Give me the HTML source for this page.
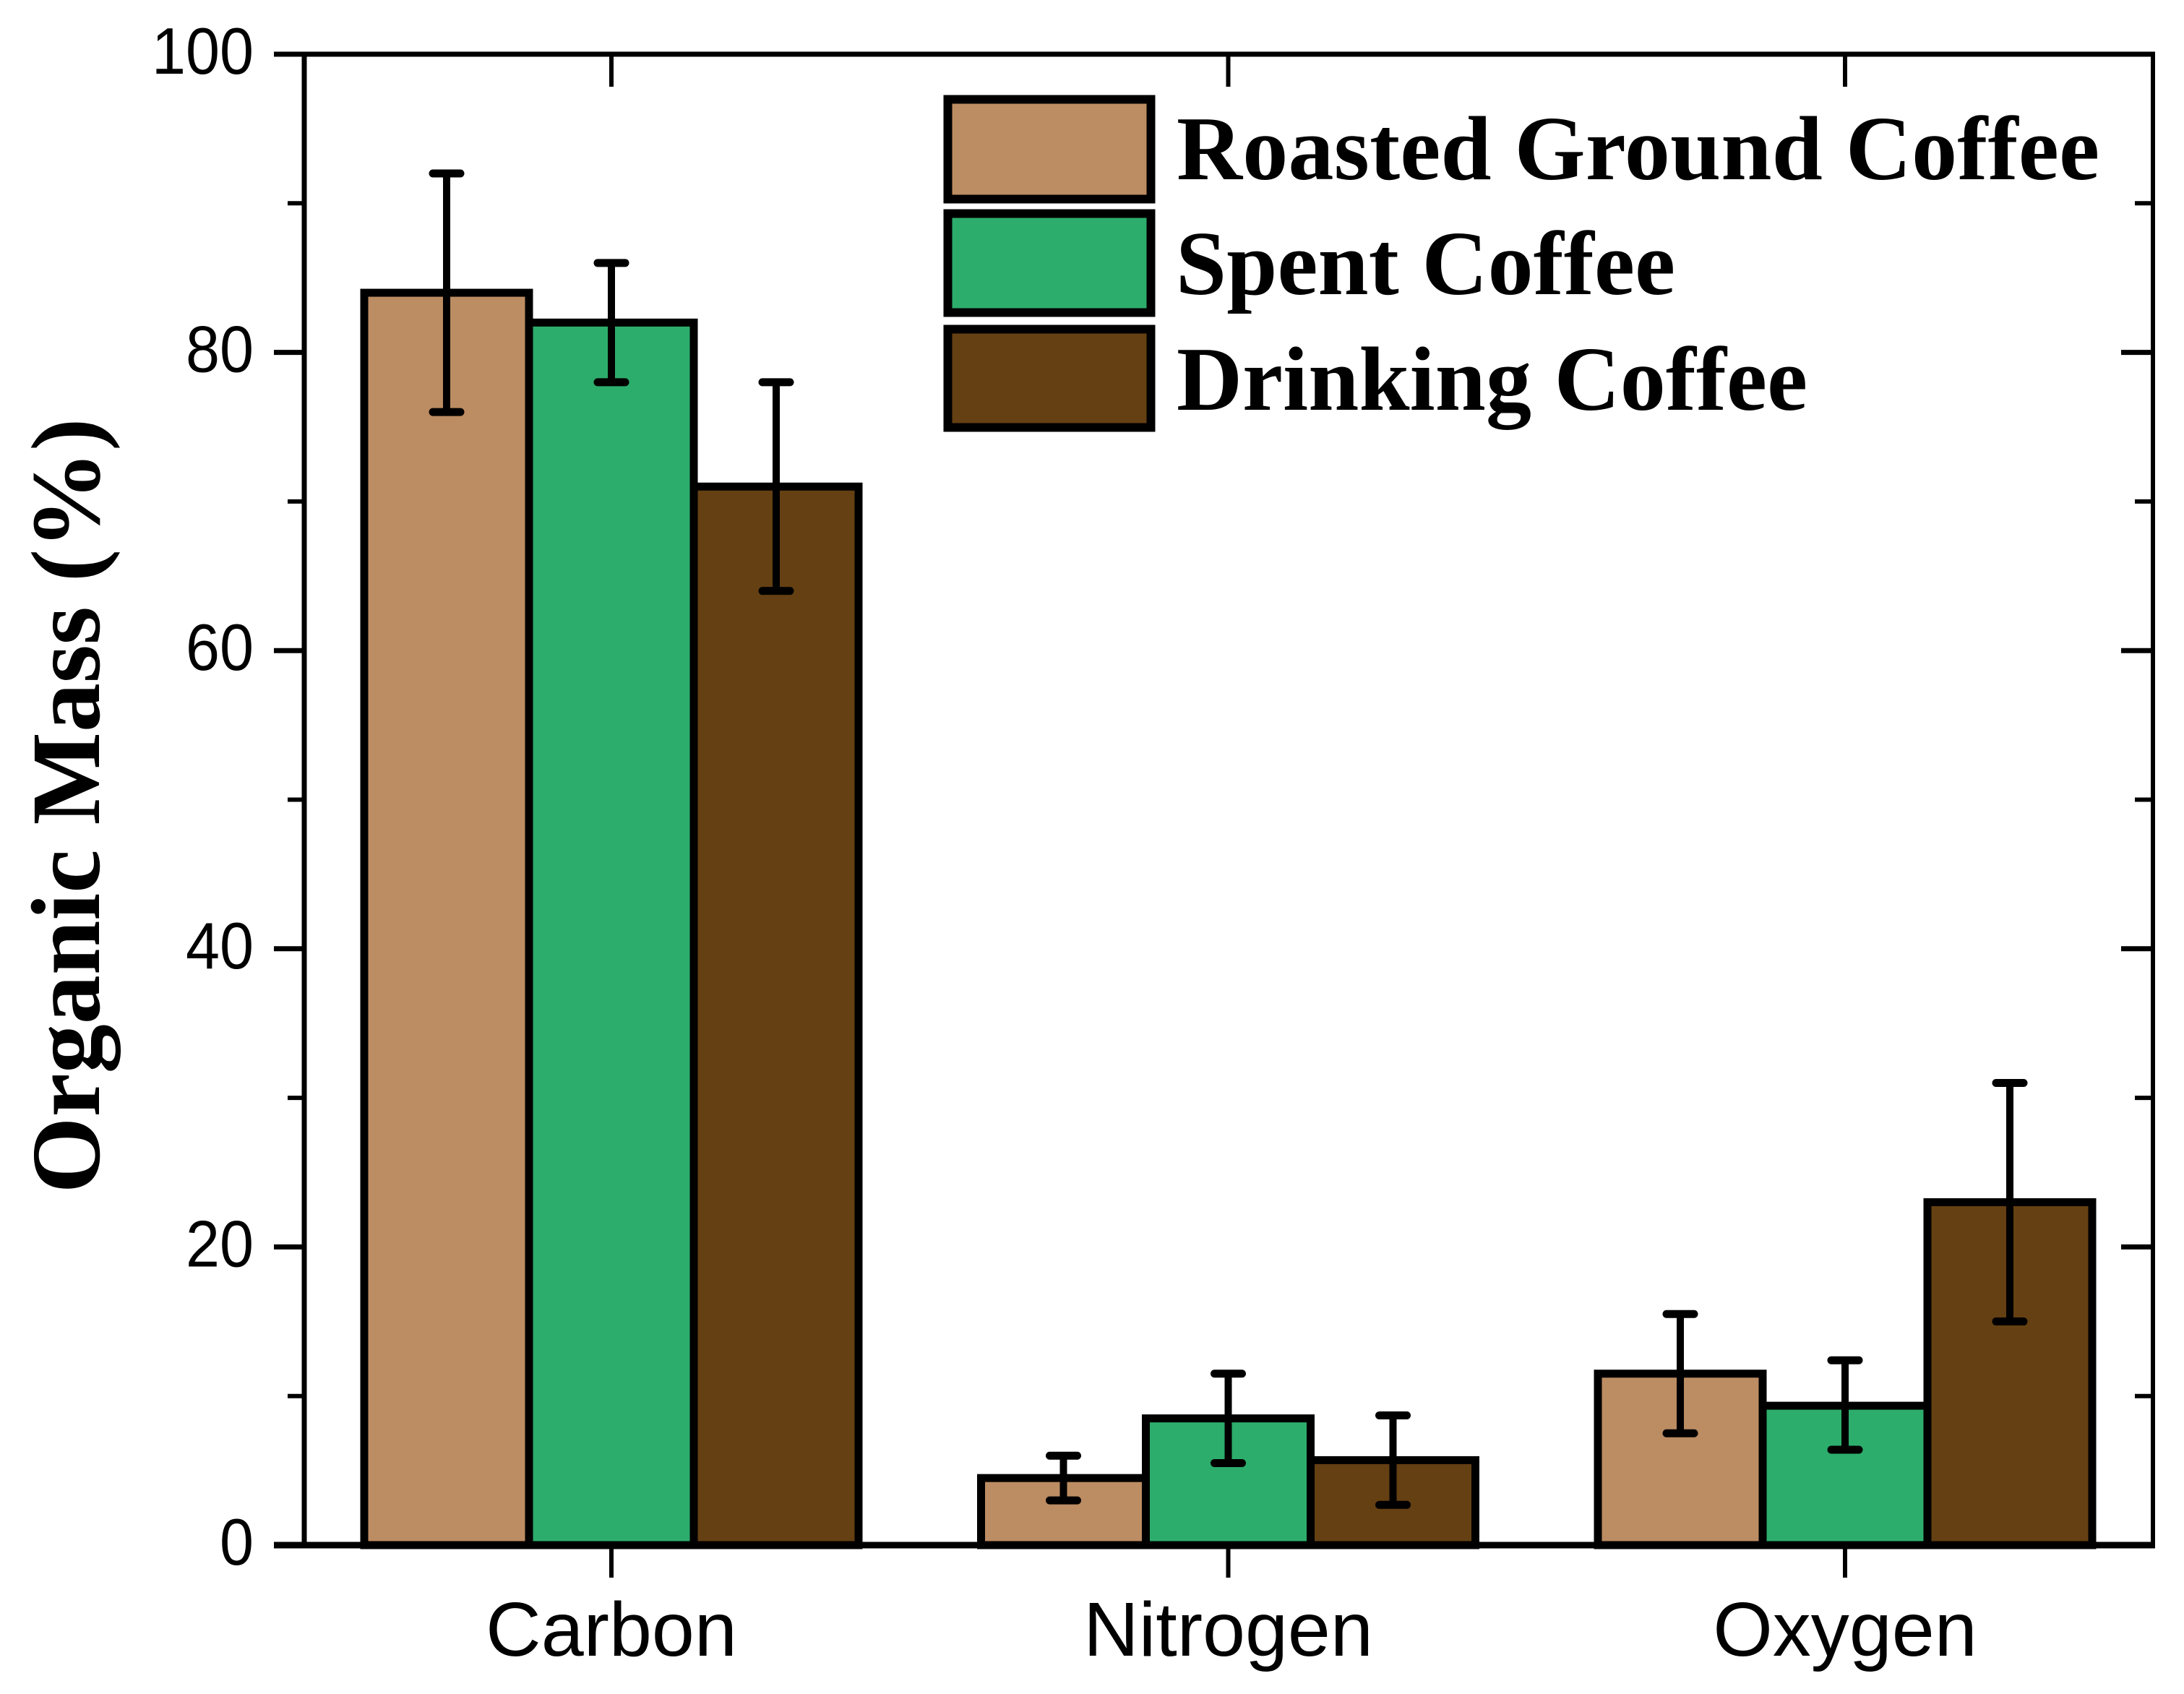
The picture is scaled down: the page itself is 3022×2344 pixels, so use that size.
<!DOCTYPE html>
<html lang="en">
<head>
<meta charset="utf-8">
<title>Organic Mass of Coffee Samples</title>
<style>
  html, body { margin: 0; padding: 0; background: #ffffff; }
  svg { display: block; }
  .sans { font-family: "Liberation Sans", sans-serif; }
  .serif { font-family: "Liberation Serif", serif; font-weight: bold; }
</style>
</head>
<body>
<svg id="chart" xmlns="http://www.w3.org/2000/svg" width="3022" height="2344" viewBox="0 0 3022 2344">
  <rect x="0" y="0" width="3022" height="2344" fill="#ffffff"/>
  <g id="bars"></g>
  <g id="errors"></g>
  <g id="axes"></g>
  <text class="serif" transform="translate(137,1115) rotate(-90)" text-anchor="middle" font-size="136" fill="#000">Organic Mass (%)</text>
  <g>
    <g>
      <rect x="1311.5" y="137.5" width="281" height="138" fill="#bc8c62" stroke="#000" stroke-width="12"/>
      <text class="serif" x="1628" y="248" font-size="126" fill="#000" textLength="1277">Roasted Ground Coffee</text>
    </g>
    <g>
      <rect x="1311.5" y="295.5" width="281" height="137" fill="#2dad6c" stroke="#000" stroke-width="12"/>
      <text class="serif" x="1627" y="407" font-size="126" fill="#000" textLength="691">Spent Coffee</text>
    </g>
    <g>
      <rect x="1311.5" y="455.5" width="281" height="136" fill="#654013" stroke="#000" stroke-width="12"/>
      <text class="serif" x="1628" y="567" font-size="126" fill="#000" textLength="873">Drinking Coffee</text>
    </g>
  </g>
</svg>
<script>
const categories = ['Carbon', 'Nitrogen', 'Oxygen'];
const seriesNames = ['roasted', 'spent', 'drinking'];
const roastedValues = [84, 4.5, 11.5];
const spentValues = [82, 8.5, 9.35];
const drinkingValues = [71, 5.7, 23];
const roastedHigh = [92, 6, 15.5];
const roastedLow = [76, 3, 7.5];
const spentHigh = [86, 11.5, 12.4];
const spentLow = [78, 5.5, 6.4];
const drinkingHigh = [78, 8.7, 31];
const drinkingLow = [64, 2.7, 15];
const yMajorTicks = [0, 20, 40, 60, 80, 100];
const yMinorTicks = [10, 30, 50, 70, 90];

const NS = 'http://www.w3.org/2000/svg';
const seriesValues = [roastedValues, spentValues, drinkingValues];
const seriesHigh = [roastedHigh, spentHigh, drinkingHigh];
const seriesLow = [roastedLow, spentLow, drinkingLow];
const seriesColors = ['#bc8c62', '#2dad6c', '#654013'];

const plot = { left: 421, right: 2979, top: 75, bottom: 2138 };
const yScale = v => plot.bottom - (v / 100) * (plot.bottom - plot.top);
const xCat = i => 846 + i * 853.5;
const barWidth = 228;

function make(tag, attrs, parent) {
  const el = document.createElementNS(NS, tag);
  for (const k in attrs) el.setAttribute(k, attrs[k]);
  parent.appendChild(el);
  return el;
}
function strokeLine(parent, x1, y1, x2, y2, w, cap) {
  return make('line', { x1: x1, y1: y1, x2: x2, y2: y2, stroke: '#000', 'stroke-width': w, 'stroke-linecap': cap || 'butt' }, parent);
}

const barsG = document.getElementById('bars');
const errG = document.getElementById('errors');
const axesG = document.getElementById('axes');

categories.forEach((cat, c) => {
  seriesValues.forEach((vals, s) => {
    const cx = xCat(c) + (s - 1) * barWidth;
    const y = yScale(vals[c]);
    const bar = make('rect', {
      x: cx - barWidth / 2, y: y, width: barWidth, height: plot.bottom - y,
      fill: seriesColors[s], stroke: '#000', 'stroke-width': 11
    }, barsG);
    
    

    const g = make('g', {}, errG);
    
    
    const hi = yScale(seriesHigh[s][c]);
    const lo = yScale(seriesLow[s][c]);
    strokeLine(g, cx, hi, cx, lo, 10);
    strokeLine(g, cx - 19, hi, cx + 19, hi, 11, 'round');
    strokeLine(g, cx - 19, lo, cx + 19, lo, 11, 'round');
  });
});

/* frame */
const frameLeft = strokeLine(axesG, plot.left, plot.top - 3, plot.left, plot.bottom + 3, 7);


const frameRight = strokeLine(axesG, plot.right, plot.top - 3, plot.right, plot.bottom + 3, 6);


const frameTop = strokeLine(axesG, 379, plot.top, plot.right + 3, plot.top, 7);


const frameBottom = strokeLine(axesG, 379, plot.bottom, plot.right + 3, plot.bottom, 9);



/* y ticks */
yMajorTicks.forEach(v => {
  const y = yScale(v);
  const t = strokeLine(axesG, 379, y, plot.left, y, 7);
  
  
  const tr = strokeLine(axesG, plot.right, y, plot.right - 44, y, 7);
  
  
  const text = String(v);
  const label = make('text', {
    x: 351, y: y + 27, 'text-anchor': 'end', 'font-size': 91, fill: '#000', class: 'sans',
    textLength: 47 * text.length, lengthAdjust: 'spacingAndGlyphs'
  }, axesG);
  label.textContent = text;
  
  
});
yMinorTicks.forEach(v => {
  const y = yScale(v);
  const t = strokeLine(axesG, 398, y, plot.left, y, 6);
  
  
  const tr = strokeLine(axesG, plot.right, y, plot.right - 25, y, 6);
  
  
});

/* x ticks */
categories.forEach((cat, c) => {
  const x = xCat(c);
  const t = strokeLine(axesG, x, plot.bottom, x, plot.bottom + 45, 6);
  
  
  const tt = strokeLine(axesG, x, plot.top, x, plot.top + 45, 6);
  
  
  const label = make('text', { x: x, y: 2291, 'text-anchor': 'middle', 'font-size': 106, fill: '#000', class: 'sans' }, axesG);
  label.textContent = cat;
  
  
});
</script>
</body>
</html>
